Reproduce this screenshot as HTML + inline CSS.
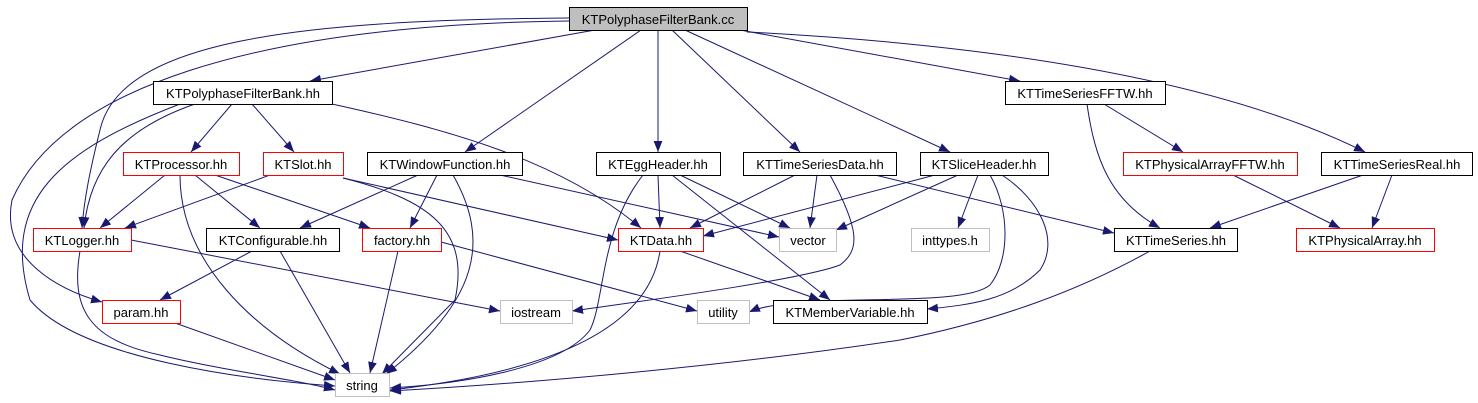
<!DOCTYPE html>
<html><head><meta charset="utf-8"><style>
html,body{margin:0;padding:0;background:#fff;width:1478px;height:403px;overflow:hidden}
svg text{font-family:"Liberation Sans",Helvetica,sans-serif;font-size:13px;text-anchor:middle}
</style></head><body>
<svg width="1478" height="403" viewBox="0 0 1478 403" xmlns="http://www.w3.org/2000/svg">
<defs><marker id="a" viewBox="0 0 10 8" refX="10" refY="4" markerWidth="11" markerHeight="9" markerUnits="userSpaceOnUse" orient="auto"><path d="M0,0L10,4L0,8z" fill="#191970"/></marker></defs>
<g fill="none" stroke="#191970" stroke-width="1" marker-end="url(#a)">
<path d="M595,30L310,81"/>
<path d="M569,18C300,20 120,40 100,130C90,170 84,200 82,228"/>
<path d="M569,21C250,25 60,90 12,200C0,260 60,290 102,302"/>
<path d="M641,30L465,152"/>
<path d="M658,30L658,152"/>
<path d="M672,30L800,152"/>
<path d="M685,30L950,152"/>
<path d="M740,30L1020,81"/>
<path d="M747,32C1000,45 1220,80 1365,152"/>
<path d="M232,104L191,152"/>
<path d="M252,104L294,152"/>
<path d="M195,104C120,130 90,170 84,228"/>
<path d="M180,104C60,150 0,200 30,300C80,360 250,380 335,386"/>
<path d="M332,104C450,130 560,160 641,228"/>
<path d="M165,175L100,228"/>
<path d="M180,175C180,260 250,330 340,374"/>
<path d="M195,175L260,228"/>
<path d="M215,175L370,228"/>
<path d="M270,175L125,228"/>
<path d="M343,178L618,240"/>
<path d="M343,178C430,200 470,230 455,300L382,374"/>
<path d="M418,175L300,228"/>
<path d="M437,175L410,228"/>
<path d="M453,175C490,240 480,300 386,374"/>
<path d="M500,175L779,237"/>
<path d="M643,175C600,230 605,300 590,330C560,370 450,385 390,388"/>
<path d="M658,175L660,228"/>
<path d="M680,175L790,228"/>
<path d="M672,175L830,300"/>
<path d="M795,175L690,228"/>
<path d="M817,175L810,228"/>
<path d="M830,175C860,230 860,250 840,265C800,280 650,300 572,311"/>
<path d="M875,175L1114,233"/>
<path d="M935,175L703,236"/>
<path d="M958,175L836,230"/>
<path d="M978,175L958,228"/>
<path d="M990,175C1010,210 1010,260 990,285C960,310 800,290 749,312"/>
<path d="M1002,175C1040,200 1060,240 1040,270C1010,300 970,305 927,309"/>
<path d="M1104,104L1183,152"/>
<path d="M1087,104C1095,160 1110,200 1160,228"/>
<path d="M1233,175L1340,228"/>
<path d="M1363,175L1210,228"/>
<path d="M1392,175L1372,228"/>
<path d="M131,240L500,311"/>
<path d="M80,251C70,310 90,340 160,355C220,370 300,380 335,390"/>
<path d="M252,251L160,300"/>
<path d="M280,251L350,373"/>
<path d="M398,251L370,373"/>
<path d="M441,242L697,311"/>
<path d="M175,323L335,380"/>
<path d="M660,251C650,320 570,370 390,390"/>
<path d="M680,251L820,300"/>
<path d="M1150,251C1080,290 1000,320 900,340C700,370 500,385 390,391"/>
</g>
<g stroke-width="1">
<rect x="569.5" y="7.5" width="178" height="23" fill="#bfbfbf" stroke="#000"/>
<rect x="153.5" y="81.5" width="179" height="23" fill="#fff" stroke="#000"/>
<rect x="1005.5" y="81.5" width="160" height="23" fill="#fff" stroke="#000"/>
<rect x="123.5" y="152.5" width="116" height="23" fill="#fff" stroke="#f00"/>
<rect x="263.5" y="152.5" width="80" height="23" fill="#fff" stroke="#f00"/>
<rect x="367.5" y="152.5" width="155" height="23" fill="#fff" stroke="#000"/>
<rect x="596.5" y="152.5" width="124" height="23" fill="#fff" stroke="#000"/>
<rect x="743.5" y="152.5" width="153" height="23" fill="#fff" stroke="#000"/>
<rect x="920.5" y="152.5" width="128" height="23" fill="#fff" stroke="#000"/>
<rect x="1123.5" y="152.5" width="174" height="23" fill="#fff" stroke="#f00"/>
<rect x="1321.5" y="152.5" width="151" height="23" fill="#fff" stroke="#000"/>
<rect x="33.5" y="228.5" width="98" height="23" fill="#fff" stroke="#f00"/>
<rect x="206.5" y="228.5" width="133" height="23" fill="#fff" stroke="#000"/>
<rect x="362.5" y="228.5" width="79" height="23" fill="#fff" stroke="#f00"/>
<rect x="618.5" y="228.5" width="85" height="23" fill="#fff" stroke="#f00"/>
<rect x="779.5" y="228.5" width="57" height="23" fill="#fff" stroke="#bfbfbf"/>
<rect x="911.5" y="228.5" width="78" height="23" fill="#fff" stroke="#bfbfbf"/>
<rect x="1114.5" y="228.5" width="123" height="23" fill="#fff" stroke="#000"/>
<rect x="1296.5" y="228.5" width="138" height="23" fill="#fff" stroke="#f00"/>
<rect x="102.5" y="300.5" width="78" height="23" fill="#fff" stroke="#f00"/>
<rect x="500.5" y="300.5" width="72" height="23" fill="#fff" stroke="#bfbfbf"/>
<rect x="697.5" y="300.5" width="52" height="23" fill="#fff" stroke="#bfbfbf"/>
<rect x="773.5" y="300.5" width="154" height="23" fill="#fff" stroke="#000"/>
<rect x="335.5" y="373.5" width="54" height="23" fill="#fff" stroke="#bfbfbf"/>
</g>
<g fill="#000">
<text x="658" y="24">KTPolyphaseFilterBank.cc</text>
<text x="243" y="98">KTPolyphaseFilterBank.hh</text>
<text x="1085" y="98">KTTimeSeriesFFTW.hh</text>
<text x="181" y="169">KTProcessor.hh</text>
<text x="303" y="169">KTSlot.hh</text>
<text x="445" y="169">KTWindowFunction.hh</text>
<text x="658" y="169">KTEggHeader.hh</text>
<text x="820" y="169">KTTimeSeriesData.hh</text>
<text x="984" y="169">KTSliceHeader.hh</text>
<text x="1210" y="169">KTPhysicalArrayFFTW.hh</text>
<text x="1397" y="169">KTTimeSeriesReal.hh</text>
<text x="82" y="245">KTLogger.hh</text>
<text x="273" y="245">KTConfigurable.hh</text>
<text x="402" y="245">factory.hh</text>
<text x="661" y="245">KTData.hh</text>
<text x="808" y="245">vector</text>
<text x="950" y="245">inttypes.h</text>
<text x="1176" y="245">KTTimeSeries.hh</text>
<text x="1365" y="245">KTPhysicalArray.hh</text>
<text x="141" y="317">param.hh</text>
<text x="536" y="317">iostream</text>
<text x="723" y="317">utility</text>
<text x="850" y="317">KTMemberVariable.hh</text>
<text x="362" y="390">string</text>
</g>
</svg>
</body></html>
